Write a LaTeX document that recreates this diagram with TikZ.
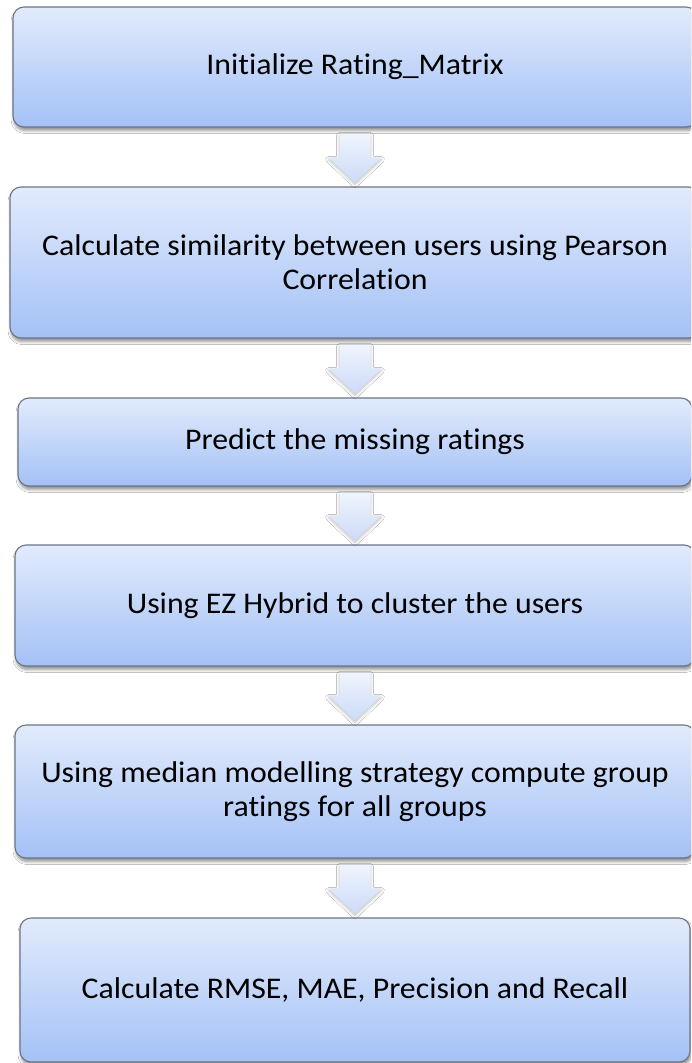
\documentclass[tikz,border=0pt]{standalone}
\usepackage{fontspec}
\setmainfont{Carlito}[FakeStretch=1.06, Ligatures=NoCommon]
\usetikzlibrary{calc,shadows.blur}
\definecolor{boxtop}{HTML}{E2EBFC}
\definecolor{boxbot}{HTML}{A4C1F6}
\definecolor{boxline}{HTML}{6D7585}
\definecolor{arrtop}{HTML}{F0F4FD}
\definecolor{arrbot}{HTML}{CCDBF8}
\tikzset{
  box/.style={draw=boxline, line width=1.1pt, rounded corners=11pt,
    top color=boxtop, bottom color=boxbot, align=center,
    font=\fontsize{30}{34}\selectfont, text=black, inner sep=0pt,
    blur shadow={shadow xshift=1pt, shadow yshift=-3.5pt, shadow blur steps=6, shadow opacity=45, shadow blur radius=3pt}},
  arr/.style={top color=arrtop, bottom color=arrbot, draw=none,
    blur shadow={shadow xshift=0pt, shadow yshift=-2pt, shadow blur steps=5, shadow opacity=25, shadow blur radius=3pt}}
}
\newcommand\blockarrow[2]{%
  \path[arr] let \p1=(#1.south), \p2=(#2.north) in
    (\x1-15.5pt,\y1-6pt) -- (\x1+15.5pt,\y1-6pt) -- (\x1+15.5pt,\y2+29pt)
    -- (\x1+26.5pt,\y2+29pt) -- (\x1,\y2+4pt) -- (\x1-26.5pt,\y2+29pt)
    -- (\x1-15.5pt,\y2+29pt) -- cycle;}
\begin{document}
\begin{tikzpicture}[x=1pt,y=-1pt]
\useasboundingbox (0,0) rectangle (691,1063);
\clip (0,0) rectangle (691,1063);
\fill[white] (0,0) rectangle (691,1063);
\node[box, minimum width=684, minimum height=120] (b1) at (355,67) {Initialize Rating\_Matrix};
\node[box, minimum width=690, minimum height=151] (b2) at (355,262.5) {Calculate similarity between users using Pearson\\Correlation};
\node[box, minimum width=674, minimum height=88] (b3) at (355,442) {Predict the missing ratings};
\node[box, minimum width=680, minimum height=121] (b4) at (355,605.5) {Using EZ Hybrid to cluster the users};
\node[box, minimum width=680, minimum height=133] (b5) at (355,791.5) {Using median modelling strategy compute group\\ratings for all groups};
\node[box, minimum width=670, minimum height=144] (b6) at (355,990) {Calculate RMSE, MAE, Precision and Recall};
\blockarrow{b1}{b2}
\blockarrow{b2}{b3}
\blockarrow{b3}{b4}
\blockarrow{b4}{b5}
\blockarrow{b5}{b6}
\end{tikzpicture}
\end{document}
